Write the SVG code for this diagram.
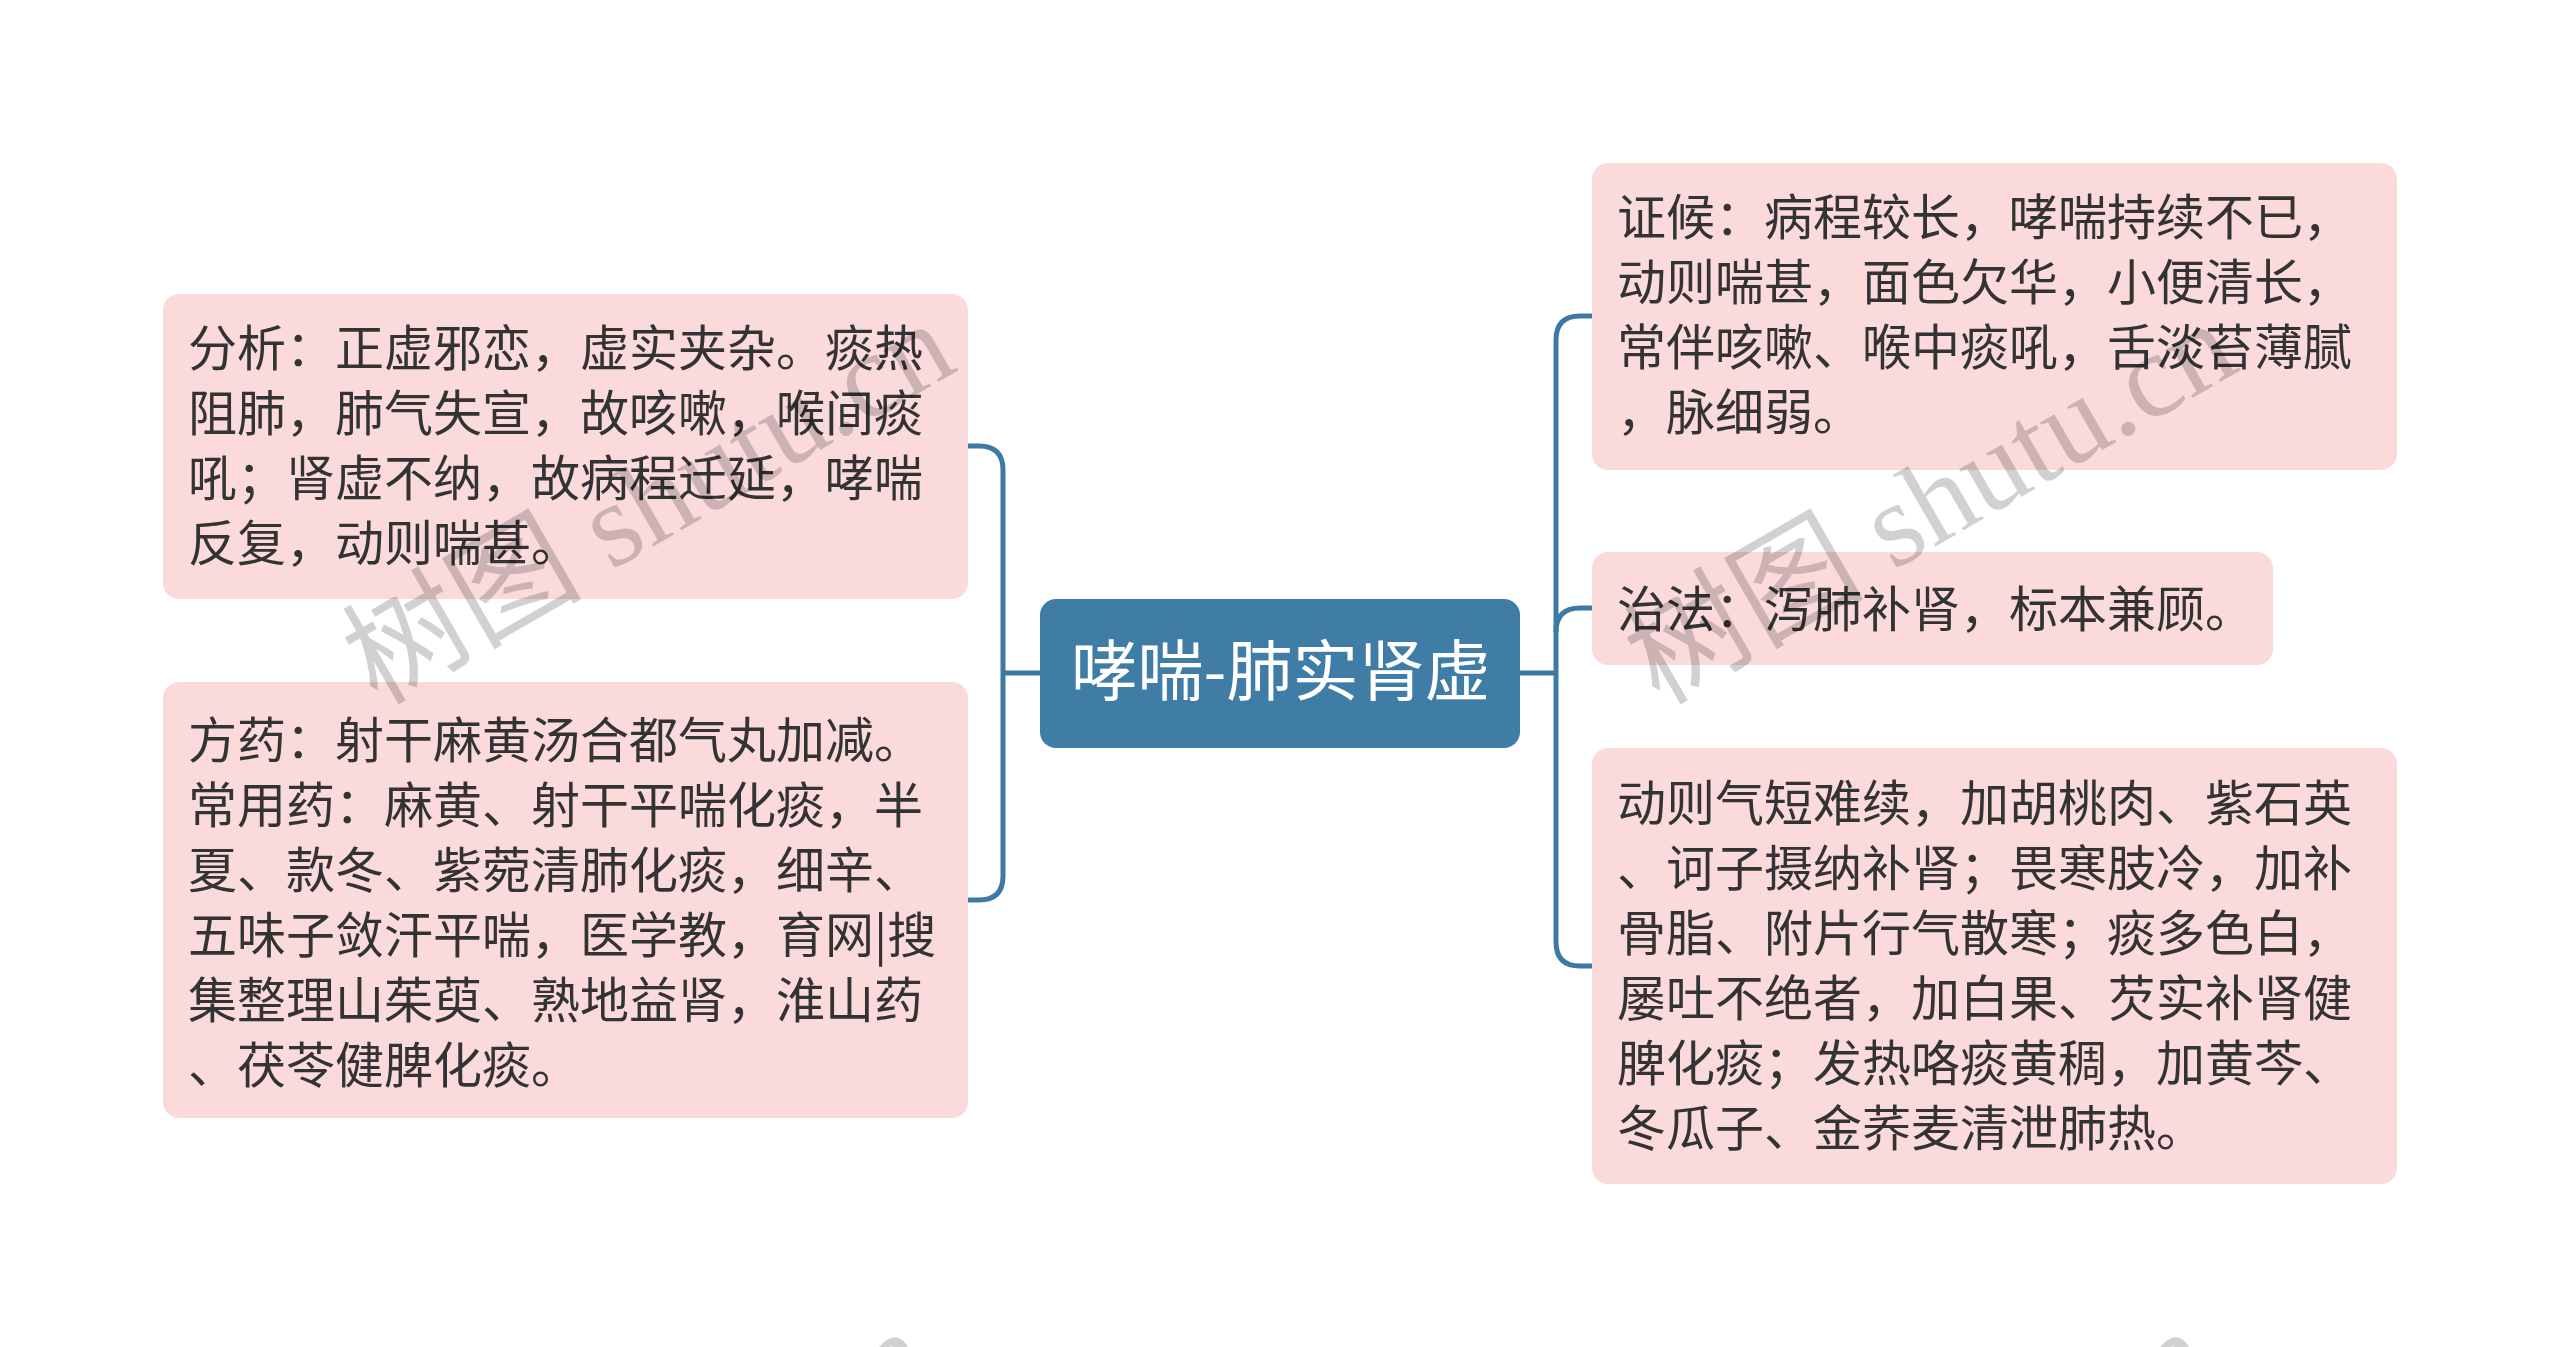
<svg xmlns="http://www.w3.org/2000/svg" width="2560" height="1347" viewBox="0 0 2560 1347">
<style>
.node rect{fill:#FBDADB;}
.node text{font-family:"Noto Sans CJK SC","Noto Sans",sans-serif;font-size:49px;fill:#333333;}
.root rect{fill:#3F7DA6;}
.root text{font-family:"Noto Sans CJK SC","Noto Sans",sans-serif;font-size:66px;fill:#FFFFFF;text-anchor:middle;}
.conn path{fill:none;stroke:#3C7AA4;stroke-width:5;stroke-linecap:butt;}
.wm{font-family:"Liberation Serif","Noto Sans CJK SC",serif;font-size:120px;fill:#000000;fill-opacity:0.18;}
</style>
<rect width="2560" height="1347" fill="#FFFFFF"/>
<g id="connectors" class="conn">
<path d="M1040,673 H1003"/>
<path d="M968,446 H979 Q1003,446 1003,470 V876 Q1003,900 979,900 H968"/>
<path d="M1520,673 H1556"/>
<path d="M1592,316 H1580 Q1556,316 1556,340 V942 Q1556,966 1580,966 H1592"/>
<path d="M1592,608 H1580 Q1556,608 1556,632"/>
</g>
<g id="root" class="root">
<rect x="1040" y="599" width="480" height="149" rx="16"/>
<text x="1281" y="695">哮喘-肺实肾虚</text>
</g>
<g id="node-fenxi" class="node">
<rect x="163" y="294" width="805" height="305" rx="16"/>
<text x="188" y="366">分析：正虚邪恋，虚实夹杂。痰热</text>
<text x="188" y="431">阻肺，肺气失宣，故咳嗽，喉间痰</text>
<text x="188" y="496">吼；肾虚不纳，故病程迁延，哮喘</text>
<text x="188" y="561">反复，动则喘甚。</text>
</g>
<g id="node-fangyao" class="node">
<rect x="163" y="682" width="805" height="436" rx="16"/>
<text x="188" y="758">方药：射干麻黄汤合都气丸加减。</text>
<text x="188" y="823">常用药：麻黄、射干平喘化痰，半</text>
<text x="188" y="888">夏、款冬、紫菀清肺化痰，细辛、</text>
<text x="188" y="953">五味子敛汗平喘，医学教，育网|搜</text>
<text x="188" y="1018">集整理山茱萸、熟地益肾，淮山药</text>
<text x="188" y="1083">、茯苓健脾化痰。</text>
</g>
<g id="node-zhenghou" class="node">
<rect x="1592" y="163" width="805" height="307" rx="16"/>
<text x="1617" y="235">证候：病程较长，哮喘持续不已，</text>
<text x="1617" y="300">动则喘甚，面色欠华，小便清长，</text>
<text x="1617" y="365">常伴咳嗽、喉中痰吼，舌淡苔薄腻</text>
<text x="1617" y="430">，脉细弱。</text>
</g>
<g id="node-zhifa" class="node">
<rect x="1592" y="552" width="681" height="113" rx="16"/>
<text x="1617" y="627">治法：泻肺补肾，标本兼顾。</text>
</g>
<g id="node-jiajian" class="node">
<rect x="1592" y="748" width="805" height="436" rx="16"/>
<text x="1617" y="821">动则气短难续，加胡桃肉、紫石英</text>
<text x="1617" y="886">、诃子摄纳补肾；畏寒肢冷，加补</text>
<text x="1617" y="951">骨脂、附片行气散寒；痰多色白，</text>
<text x="1617" y="1016">屡吐不绝者，加白果、芡实补肾健</text>
<text x="1617" y="1081">脾化痰；发热咯痰黄稠，加黄芩、</text>
<text x="1617" y="1146">冬瓜子、金荞麦清泄肺热。</text>
</g>
<g id="watermarks">
<text class="wm" transform="translate(352,1714) rotate(-30)">树图 shutu.cn</text>
<text class="wm" transform="translate(1633,1714) rotate(-30)">树图 shutu.cn</text>
<text class="wm" transform="translate(377,706) rotate(-30)">树图 shutu.cn</text>
<text class="wm" transform="translate(1659,706) rotate(-30)">树图 shutu.cn</text>
</g>
</svg>
